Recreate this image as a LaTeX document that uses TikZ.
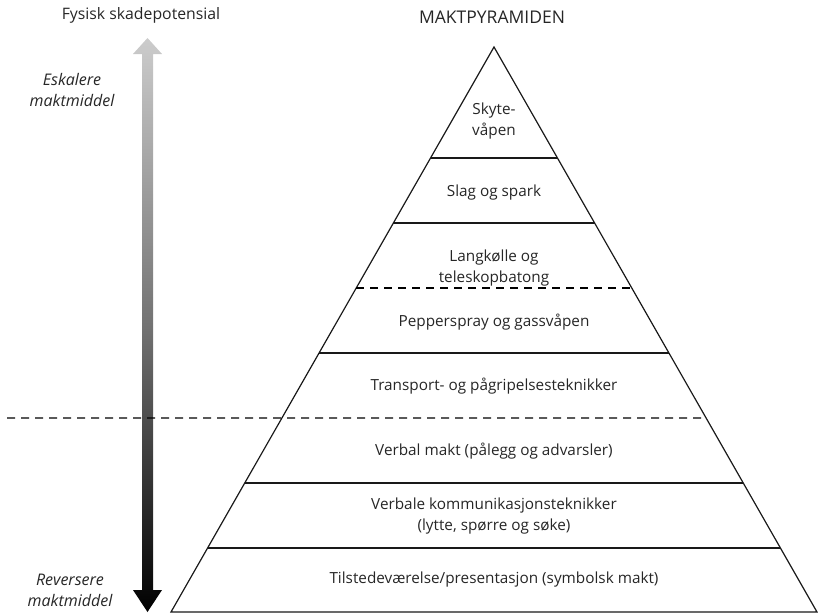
\documentclass[tikz,border=0pt]{standalone}
\usepackage{fontspec}
\setmainfont{Open Sans}
\usetikzlibrary{calc}
\begin{document}
\begin{tikzpicture}[x=1pt,y=-1pt,
  pyr/.style={line width=1.2pt, black!90},
  sep/.style={line width=1.1pt, black!90},
  dsep/.style={line width=1.2pt, black, dash pattern=on 8pt off 6pt},
  lbl/.style={font=\fontsize{15.3}{21}\selectfont, text=black!85, align=center, inner sep=0pt},
  side/.style={font=\fontsize{16}{21}\selectfont\itshape, text=black!85, align=center, inner sep=0pt}]
\useasboundingbox (0,0) rectangle (818,614);
\coordinate (A) at (494,47);
\coordinate (BL) at (171,612);
\coordinate (BR) at (817,612);
\foreach \t/\n in {0.19646/1,0.31150/2,0.42655/3,0.54159/4,0.65664/5,0.77168/6,0.88673/7}{
  \path (A) -- (BL) coordinate[pos=\t] (l\n);
  \path (A) -- (BR) coordinate[pos=\t] (r\n);
}
% arrow
\shade[top color=black!20, bottom color=black, middle color=black!55]
  (147.5,38) -- (162,54) -- (153,54) -- (153,590) -- (162,590) -- (147.5,612)
  -- (133,590) -- (142,590) -- (142,54) -- (133,54) -- cycle;
% pyramid
\draw[pyr, line join=miter] (A) -- (BL) -- (BR) -- cycle;
\draw[sep] (l1) -- (r1);
\draw[sep] (l2) -- (r2);
\draw[dsep] (l3) -- (r3);
\draw[sep] (l4) -- (r4);
\coordinate (dstart) at (7,418);
\draw[dsep] (dstart) -- (r5);
\draw[sep] (l6) -- (r6);
\draw[sep] (l7) -- (r7);
% labels
\node[lbl, font=\fontsize{17.5}{21}\selectfont] (t0) at (492,17) {MAKTPYRAMIDEN};
\node[lbl, font=\fontsize{15.8}{21}\selectfont] (t1) at (141,15) {Fysisk skadepotensial};
\node[side] (e) at (72,90) {Eskalere\\maktmiddel};
\node[side] (r) at (70,590) {Reversere\\maktmiddel};
\node[lbl] (s1) at (494,121) {Skyte-\\våpen};
\node[lbl] (s2) at (494,193) {Slag og spark};
\node[lbl] (s3) at (494,268) {Langkølle og\\teleskopbatong};
\node[lbl] (s4) at (494,322) {Pepperspray og gassvåpen};
\node[lbl] (s5) at (494,386) {Transport- og pågripelsesteknikker};
\node[lbl] (s6) at (494,451) {Verbal makt (pålegg og advarsler)};
\node[lbl] (s7) at (494,516) {Verbale kommunikasjonsteknikker\\(lytte, spørre og søke)};
\node[lbl] (s8) at (494,580) {Tilstedeværelse/presentasjon (symbolsk makt)};
\end{tikzpicture}
\end{document}
